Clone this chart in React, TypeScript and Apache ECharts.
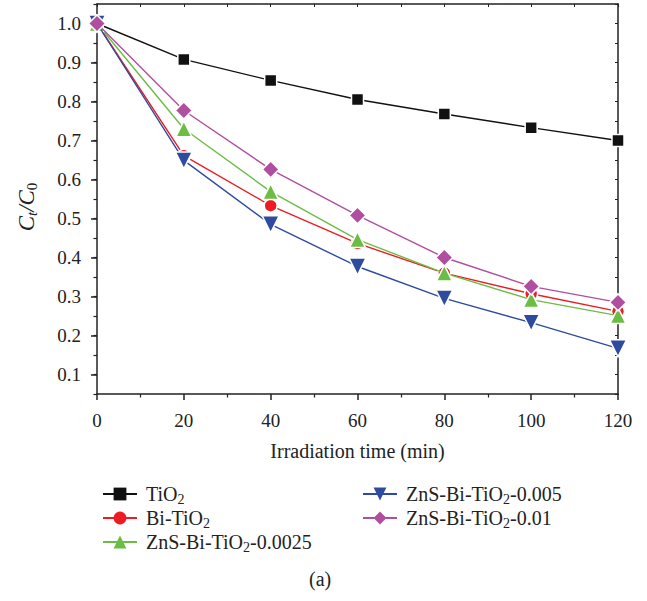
import React, { useEffect, useRef } from "react";
import * as echarts from "echarts";

const times = [0, 20, 40, 60, 80, 100, 120];
const tio2 = [1.0, 0.908, 0.854, 0.805, 0.768, 0.733, 0.7];
const biTio2 = [1.0, 0.661, 0.533, 0.436, 0.36, 0.307, 0.262];
const zns0025 = [1.0, 0.73, 0.569, 0.446, 0.36, 0.292, 0.251];
const zns005 = [1.0, 0.649, 0.485, 0.377, 0.295, 0.233, 0.167];
const zns01 = [1.0, 0.777, 0.626, 0.508, 0.4, 0.326, 0.285];

const seriesNames = [
  "TiO2",
  "Bi-TiO2",
  "ZnS-Bi-TiO2-0.0025",
  "ZnS-Bi-TiO2-0.005",
  "ZnS-Bi-TiO2-0.01",
];
const seriesColors = ["#111111", "#ed1c24", "#6cbd45", "#2e4b9f", "#b04f9f"];
const seriesSymbols = ["rect", "circle", "triangle", "path://M0,0 L10,0 L5,9 Z", "diamond"];
const seriesSizes = [12, 13, 16, 17, 17];
const yTickValues = [0.1, 0.2, 0.3, 0.4, 0.5, 0.6, 0.7, 0.8, 0.9, 1.0];

const FONT = "'Liberation Serif', 'DejaVu Serif', serif";

function fmtName(name: string) {
  const parts = name.split("TiO2");
  return parts
    .map((p) => (p ? `{n|${p}}` : ""))
    .join("{n|TiO}{s|2}");
}

export default function App() {
  const ref = useRef<HTMLDivElement>(null);
  useEffect(() => {
    document.body.style.margin = "0";
    const chart = echarts.init(ref.current!, undefined, { renderer: "svg" });
    const dataSets = [tio2, biTio2, zns0025, zns005, zns01];
    const rich = {
      n: { fontSize: 20, fontFamily: FONT, color: "#222" },
      s: { fontSize: 14, fontFamily: FONT, color: "#222", padding: [10, 0, 0, 0] },
    };
    const axisLineStyle = { color: "#222", width: 1.5 };
    chart.setOption({
      animation: false,
      backgroundColor: "#fff",
      grid: { left: 97, right: 29, top: 4, bottom: 207, containLabel: false },
      xAxis: [
        {
          type: "value",
          min: 0,
          max: 120,
          interval: 20,
          position: "bottom",
          name: "Irradiation time (min)",
          nameLocation: "middle",
          nameGap: 47,
          nameTextStyle: { fontSize: 20, fontFamily: FONT, color: "#222" },
          axisLine: { show: true, onZero: false, lineStyle: axisLineStyle },
          axisTick: { show: true, inside: false, length: 6, lineStyle: { color: "#222", width: 1.5 } },
          minorTick: { show: true, splitNumber: 2, length: 3.5, lineStyle: { color: "#222", width: 1.2 } },
          axisLabel: { fontSize: 19, fontFamily: FONT, color: "#222", margin: 17 },
          splitLine: { show: false },
          minorSplitLine: { show: false },
        },
        {
          type: "value",
          min: 0,
          max: 120,
          interval: 10,
          position: "top",
          axisLine: { show: true, onZero: false, lineStyle: axisLineStyle },
          axisTick: { show: true, inside: true, length: 3, lineStyle: { color: "#222", width: 1 } },
          axisLabel: { show: false },
          splitLine: { show: false },
        },
      ],
      yAxis: [
        {
          type: "value",
          min: 0.05,
          max: 1.05,
          position: "left",
          axisLine: { show: true, onZero: false, lineStyle: axisLineStyle },
          axisTick: {
            show: true,
            inside: false,
            length: 6,
            customValues: yTickValues,
            lineStyle: { color: "#222", width: 1.5 },
          },
          axisLabel: {
            fontSize: 19,
            fontFamily: FONT,
            color: "#222",
            margin: 16,
            customValues: yTickValues,
            formatter: (v: number) => v.toFixed(1),
          },
          splitLine: { show: false },
        },
        {
          type: "value",
          min: 0.05,
          max: 1.05,
          interval: 0.05,
          position: "left",
          axisLine: { show: false },
          axisTick: { show: true, inside: false, length: 3.5, lineStyle: { color: "#222", width: 1.2 } },
          axisLabel: { show: false },
          splitLine: { show: false },
        },
        {
          type: "value",
          min: 0.05,
          max: 1.05,
          interval: 0.05,
          position: "right",
          axisLine: { show: true, onZero: false, lineStyle: axisLineStyle },
          axisTick: { show: true, inside: true, length: 3, lineStyle: { color: "#222", width: 1 } },
          axisLabel: { show: false },
          splitLine: { show: false },
        },
      ],
      legend: [
        {
          data: seriesNames.slice(0, 3),
          orient: "vertical",
          left: 97,
          top: 479,
          itemWidth: 34,
          itemHeight: 16,
          itemGap: 2,
          formatter: fmtName,
          textStyle: { rich, padding: [0, 0, 0, 4] },
          itemStyle: { borderWidth: 0 },
        },
        {
          data: seriesNames.slice(3),
          orient: "vertical",
          left: 357,
          top: 479,
          itemWidth: 34,
          itemHeight: 16,
          itemGap: 2,
          formatter: fmtName,
          textStyle: { rich, padding: [0, 0, 0, 4] },
          itemStyle: { borderWidth: 0 },
        },
      ],
      graphic: [
        {
          type: "text",
          x: 26,
          y: 207,
          rotation: Math.PI / 2,
          style: {
            text: "{i|C}{t|t}{i|/C}{z|0}",
            align: "center",
            verticalAlign: "middle",
            rich: {
              i: { fontSize: 23, fontFamily: FONT, fontStyle: "italic", fill: "#222" },
              t: { fontSize: 15, fontFamily: FONT, fontStyle: "italic", fill: "#222", padding: [11, 0, 0, 0] },
              z: { fontSize: 15, fontFamily: FONT, fill: "#222", padding: [11, 0, 0, 0] },
            },
          },
        },
        {
          type: "text",
          left: 309,
          top: 569,
          style: { text: "(a)", fontSize: 20, fontFamily: FONT, fill: "#222" },
        },
      ],
      series: dataSets.map((d, i) => ({
        name: seriesNames[i],
        type: "line",
        xAxisIndex: 0,
        yAxisIndex: 0,
        data: times.map((t, j) => [t, d[j]]),
        symbol: seriesSymbols[i],
        symbolSize: seriesSizes[i],
        showAllSymbol: true,
        lineStyle: { color: seriesColors[i], width: 1.4 },
        itemStyle: { color: seriesColors[i], borderColor: "#fff", borderWidth: 1.5 },
        z: 2 + i,
      })),
    });
    return () => chart.dispose();
  }, []);
  return <div ref={ref} style={{ width: 647, height: 601 }} />;
}
